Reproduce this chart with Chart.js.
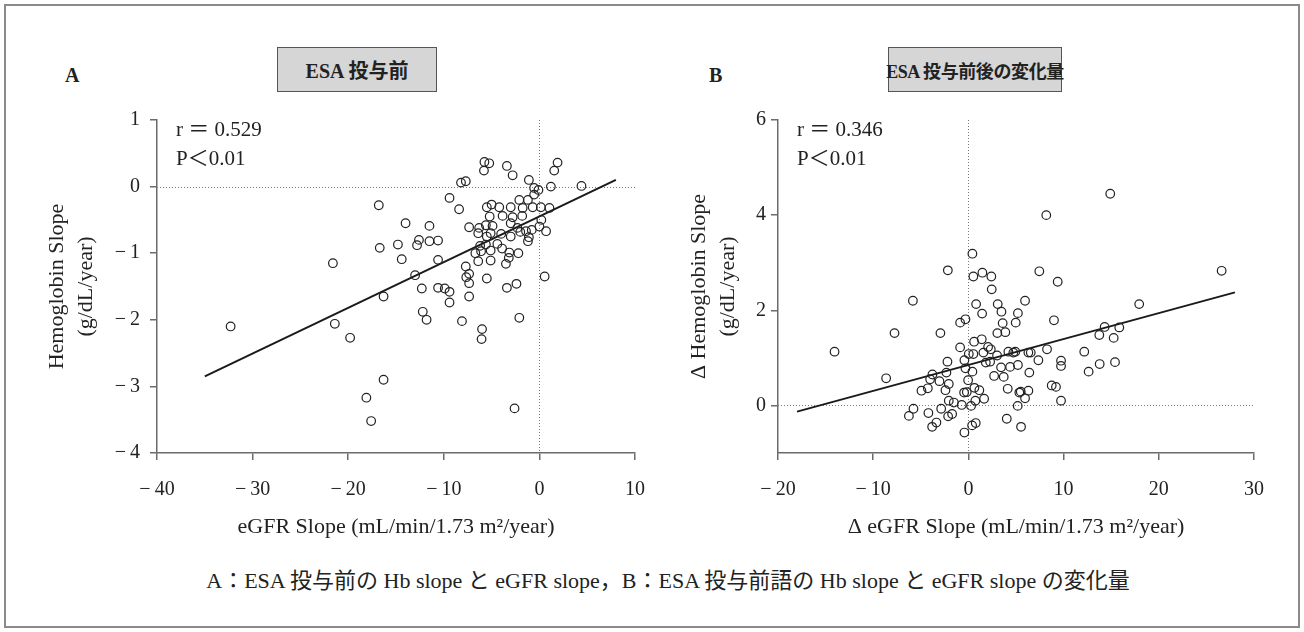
<!DOCTYPE html>
<html lang="ja">

<head>
    <meta charset="UTF-8">
    <title>Hb slope / eGFR slope</title>
    <style>
        body {
            margin: 0;
            width: 1304px;
            height: 632px;
            position: relative;
            overflow: hidden;
            background: #fff;
            color: #222;
            font-family: 'Liberation Serif', 'Noto Sans CJK JP', serif;
        }

        .frame {
            position: absolute;
            left: 4px;
            top: 4px;
            width: 1296px;
            height: 624px;
            border: 2px solid #8a8a8a;
            box-sizing: border-box;
        }

        .panel-label {
            position: absolute;
            top: 62px;
            font-size: 20px;
            font-weight: bold;
            line-height: 26px;
        }

        .tag {
            position: absolute;
            top: 47px;
            height: 45px;
            background: #d6d6d6;
            border: 1.5px solid #555;
            box-sizing: border-box;
            display: flex;
            align-items: center;
            justify-content: center;
            font-size: 20px;
            font-weight: bold;
            white-space: nowrap;
        }

        .caption {
            position: absolute;
            left: 0;
            width: 1336px;
            top: 567px;
            text-align: center;
            font-size: 22px;
            line-height: 28px;
            white-space: nowrap;
        }

        canvas {
            position: absolute;
        }
    </style>
</head>

<body>
    <div class="frame"></div>

    <div class="panel-label" style="left:65px">A</div>
    <div class="tag" style="left:277px; width:160px">ESA 投与前</div>
    <div class="panel-label" style="left:709px">B</div>
    <div class="tag" style="left:888px; width:174px; font-size:18px; letter-spacing:-0.4px">ESA 投与前後の変化量</div>

    <canvas id="chartA" width="650" height="460" style="left:0; top:100px"></canvas>
    <canvas id="chartB" width="654" height="460" style="left:650px; top:100px"></canvas>

    <div class="caption">A：ESA 投与前の Hb slope と eGFR slope，B：ESA 投与前語の Hb slope と eGFR slope の変化量</div>

    <script src="https://cdn.jsdelivr.net/npm/chart.js"></script>

    <script>
        // panel A: before ESA
        const egfrA = [
            -32.3, -21.6, -21.4, -19.8, -18.1, -17.6, -16.8, -16.7, -16.3, -16.3,
            -14.8, -14.4, -14.0, -13.0, -12.8, -12.6, -12.3, -12.2, -11.8, -11.5,
            -11.5, -10.6, -10.6, -10.6, -9.9, -9.4, -9.4, -9.4, -8.4, -8.2,
            -8.1, -7.7, -7.7, -7.35, -7.35, -7.65, -7.35, -7.35, -6.7, -6.4,
            -6.4, -6.3, -6.2, -6.1, -6.0, -6.05, -5.8, -5.75, -5.25, -5.6,
            -5.5, -5.0, -5.2, -5.5, -5.6, -5.1, -5.1, -5.1, -5.5, -4.9,
            -4.4, -4.2, -4.0, -3.9, -3.85, -3.4, -3.5, -3.4, -3.15, -3.2,
            -3.0, -3.0, -3.0, -2.8, -2.8, -2.6, -2.4, -2.3, -2.2, -2.1,
            -2.1, -2.0, -1.8, -1.75, -1.4, -1.2, -1.1, -1.2, -1.1, -0.8,
            -0.7, -0.55, -0.55, -0.1, 0.0, 0.15, 0.2, 0.55, 0.7, 1.05,
            1.2, 1.55, 1.9, 4.4
        ];
        const hbA = [
            -2.10, -1.15, -2.06, -2.27, -3.17, -3.52, -0.28, -0.92, -1.65, -2.90,
            -0.87, -1.09, -0.55, -1.33, -0.88, -0.80, -1.53, -1.88, -2.00, -0.59,
            -0.82, -0.81, -1.10, -1.52, -1.53, -1.58, -1.74, -0.17, -0.34, 0.06,
            -2.02, 0.08, -1.20, -0.61, -1.31, -1.36, -1.45, -1.65, -1.00, -0.70,
            -1.12, -0.62, -0.89, -0.97, -2.14, -2.29, 0.24, 0.37, 0.35, -0.58,
            -0.31, -0.27, -0.45, -0.75, -0.87, -0.70, -0.96, -1.11, -1.38, -0.59,
            -0.86, -0.31, -0.71, -0.93, -0.44, 0.31, -1.16, -1.52, -0.99, -1.07,
            -0.55, -0.75, -0.31, 0.17, -0.46, -3.33, -1.46, -0.62, -1.00, -0.20,
            -1.97, -0.68, -0.44, -0.32, -0.67, -0.20, -0.76, -0.82, 0.10, -0.65,
            -0.31, -0.02, -0.12, -0.05, -0.60, -0.31, -0.50, -1.35, -0.67, -0.32,
            0.00, 0.24, 0.36, 0.01
        ];
        const fitA = [0.0686, -0.449];   // slope, intercept
        const fitRangeA = [-35, 8];
        const statsA = ['r ＝ 0.529', 'P＜0.01'];
        const xTicksA = [-40, -30, -20, -10, 0, 10];
        const yTicksA = [-4, -3, -2, -1, 0, 1];

        // panel B: change before/after ESA
        const egfrB = [
            -14.06, -8.64, -7.76, -6.25, -5.83, -5.77, -4.93, -4.26, -4.2, -4.02,
            -3.81, -3.78, -3.36, -3.04, -2.94, -2.86, -2.41, -2.31, -2.2, -2.16,
            -2.13, -2.06, -2.06, -1.71, -1.53, -0.87, -0.87, -0.7, -0.45, -0.42,
            -0.42, -0.31, -0.31, -0.17, -0.03, 0.04, 0.28, 0.39, 0.42, 0.42,
            0.52, 0.52, 0.6, 0.63, 0.73, 0.77, 0.81, 1.15, 1.4, 1.44,
            1.47, 1.57, 1.65, 1.83, 2.07, 2.28, 2.35, 2.41, 2.45, 2.7,
            3.01, 3.04, 3.08, 3.43, 3.47, 3.6, 3.71, 3.88, 4.03, 4.13,
            4.2, 4.38, 4.72, 4.93, 4.97, 5.18, 5.2, 5.2, 5.35, 5.5,
            5.53, 5.95, 5.95, 6.3, 6.3, 6.4, 6.55, 7.35, 7.45, 8.18,
            8.26, 8.75, 8.99, 9.2, 9.38, 9.73, 9.73, 9.73, 12.17, 12.63,
            13.75, 13.79, 14.31, 14.9, 15.26, 15.4, 15.85, 17.94, 26.6
        ];
        const hbB = [
            1.13, 0.57, 1.52, -0.22, 2.20, -0.07, 0.31, 0.36, -0.16, 0.55,
            -0.45, 0.65, -0.36, 0.51, 1.52, -0.07, 0.32, 0.69, 0.92, 2.84,
            -0.23, 0.45, 0.10, -0.18, 0.06, 1.74, 1.22, 0.01, 0.27, 0.95,
            -0.57, 1.81, 0.78, 0.28, 0.53, 1.08, -0.01, -0.42, 3.19, 0.71,
            2.71, 1.08, 1.34, 0.37, 0.10, -0.37, 2.13, 0.32, 1.39, 1.93,
            2.79, 1.11, 0.14, 0.90, 1.23, 0.92, 1.18, 2.71, 2.44, 0.62,
            1.05, 1.52, 2.13, 0.80, 1.97, 1.73, 0.60, 1.54, -0.28, 0.35,
            1.13, 0.81, 1.11, 1.13, 1.74, -0.01, 1.94, 0.85, 0.27, 0.29,
            -0.45, 2.20, 0.15, 1.11, 0.31, 0.69, 1.11, 0.95, 2.82, 4.00,
            1.18, 0.42, 1.79, 0.39, 2.60, 0.94, 0.83, 0.10, 1.13, 0.71,
            1.48, 0.87, 1.65, 4.45, 1.42, 0.91, 1.64, 2.13, 2.83
        ];
        const fitB = [0.0545, 0.851];
        const fitRangeB = [-18, 28];
        const statsB = ['r ＝ 0.346', 'P＜0.01'];
        const xTicksB = [-20, -10, 0, 10, 20, 30];
        const yTicksB = [0, 2, 4, 6];

        const ink = '#222';
        const axisGray = '#6b6b6b';

        Chart.defaults.font.family = "'Liberation Serif', 'Noto Sans CJK JP', serif";
        Chart.defaults.color = ink;

        const fmt = v => v < 0 ? '\u2212\u2009' + Math.abs(v) : String(v);

        // dotted lines through zero on both axes
        const zeroLines = {
            id: 'zeroLines',
            beforeDatasetsDraw(chart) {
                const { ctx, chartArea: { left, right, top, bottom }, scales: { x, y } } = chart;
                const x0 = Math.round(x.getPixelForValue(0)) + 0.5;
                const y0 = Math.round(y.getPixelForValue(0)) + 0.5;
                ctx.save();
                ctx.strokeStyle = '#7a7a7a';
                ctx.lineWidth = 1;
                ctx.setLineDash([1, 2]);
                ctx.beginPath();
                ctx.moveTo(left, y0);
                ctx.lineTo(right, y0);
                ctx.moveTo(x0, top);
                ctx.lineTo(x0, bottom);
                ctx.stroke();
                ctx.restore();
            }
        };

        // r and P in the upper left corner
        const statsText = {
            id: 'statsText',
            afterDatasetsDraw(chart, args, opts) {
                const { ctx, chartArea: { left, top } } = chart;
                ctx.save();
                ctx.fillStyle = ink;
                ctx.font = "21px 'Liberation Serif', 'Noto Sans CJK JP', serif";
                ctx.textBaseline = 'middle';
                opts.lines.forEach((t, i) => ctx.fillText(t, left + 19, top + 10 + i * 29));
                ctx.restore();
            }
        };

        function makePanel(id, xs, ys, fit, fitRange, stats, xr, yr, xTicks, yTicks, xTitle, yTitle, yAxisW, yPad, yTitlePad, rightPad) {
            const points = xs.map((x, i) => ({ x: x, y: ys[i] }));
            const line = fitRange.map(x => ({ x: x, y: fit[0] * x + fit[1] }));
            const gridOpts = { drawOnChartArea: false, drawTicks: true, tickLength: 7, color: axisGray, lineWidth: 1.5 };
            const borderOpts = { color: axisGray, width: 1.5 };

            return new Chart(document.getElementById(id), {
                type: 'scatter',
                data: {
                    datasets: [
                        {
                            data: points,
                            pointRadius: 4.3,
                            pointHoverRadius: 4.3,
                            borderWidth: 1.2,
                            borderColor: ink,
                            backgroundColor: 'rgba(0,0,0,0)'
                        },
                        {
                            type: 'line',
                            data: line,
                            pointRadius: 0,
                            borderWidth: 2,
                            borderColor: '#1a1a1a',
                            fill: false
                        }
                    ]
                },
                plugins: [zeroLines, statsText],
                options: {
                    responsive: false,
                    animation: false,
                    layout: { padding: { left: 0, top: 20, right: rightPad, bottom: 0 } },
                    plugins: {
                        legend: { display: false },
                        tooltip: { enabled: false },
                        statsText: { lines: stats }
                    },
                    scales: {
                        x: {
                            type: 'linear',
                            min: xr[0],
                            max: xr[1],
                            afterBuildTicks: s => { s.ticks = xTicks.map(v => ({ value: v })); },
                            afterFit: s => { s.height = 107; s.paddingLeft = 0; s.paddingRight = 0; },
                            grid: gridOpts,
                            border: borderOpts,
                            ticks: { padding: 18, font: { size: 20 }, color: ink, maxRotation: 0, autoSkip: false, callback: fmt },
                            title: { display: true, text: xTitle, font: { size: 22 }, color: ink, padding: { top: 0, bottom: 20 } }
                        },
                        y: {
                            type: 'linear',
                            min: yr[0],
                            max: yr[1],
                            afterBuildTicks: s => { s.ticks = yTicks.map(v => ({ value: v })); },
                            afterFit: s => { s.width = yAxisW; s.paddingTop = 0; s.paddingBottom = 0; },
                            grid: gridOpts,
                            border: borderOpts,
                            ticks: { padding: yPad, font: { size: 20 }, color: ink, autoSkip: false, callback: fmt },
                            title: { display: true, text: yTitle, font: { size: 22, lineHeight: 1.32 }, color: ink, padding: { top: yTitlePad, bottom: 0 } }
                        }
                    }
                }
            });
        }

        makePanel('chartA', egfrA, hbA, fitA, fitRangeA, statsA, [-40, 10], [-4, 1], xTicksA, yTicksA,
            'eGFR Slope (mL/min/1.73 m²/year)', ['Hemoglobin Slope', '(g/dL/year)'], 157, 10, 43, 15);

        makePanel('chartB', egfrB, hbB, fitB, fitRangeB, statsB, [-20, 30], [-1, 6], xTicksB, yTicksB,
            'Δ eGFR Slope (mL/min/1.73 m²/year)', ['Δ Hemoglobin Slope', '(g/dL/year)'], 128, 5, 35, 50);
    </script>
</body>

</html>
